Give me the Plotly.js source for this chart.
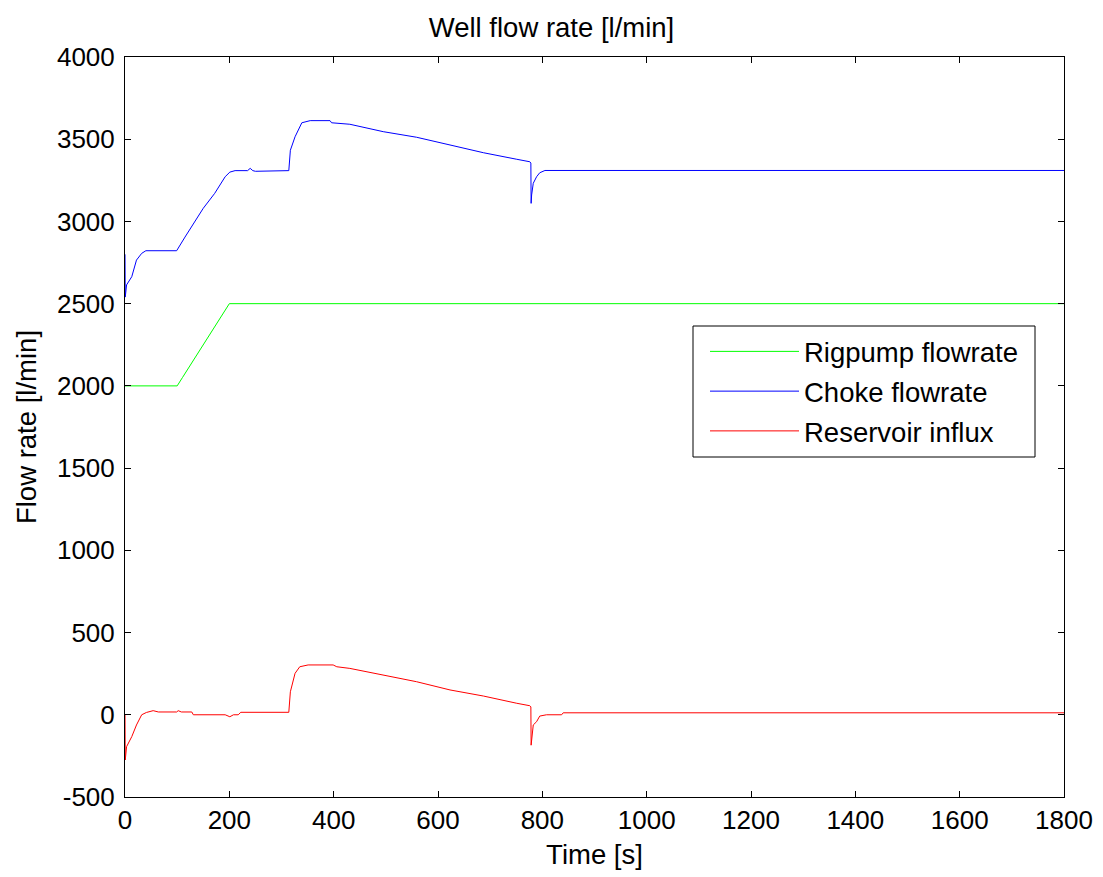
<!DOCTYPE html>
<html>
<head>
<meta charset="utf-8">
<script src="https://cdn.plot.ly/plotly-3.0.1.min.js"></script>
<style>html,body{margin:0;padding:0;background:#fff;}#chart{width:1103px;height:877px;}</style>
</head>
<body>
<div id="chart"></div>
<script>
// Rigpump flowrate
const rigT = [0, 100, 110, 120, 130, 140, 150, 160, 170, 180, 190, 200, 1800];
const rigQ = [2000, 2000, 2050, 2100, 2150, 2200, 2250, 2300, 2350, 2400, 2450, 2500, 2500];

// Choke flowrate
const chokeT = [0, 0.5, 3, 13, 22, 32, 40, 99, 115, 134, 150, 172, 185, 192, 201, 211, 235, 240, 245, 250, 314, 317, 326, 335, 339, 355, 393, 396, 431, 495, 559, 623, 687, 751, 776, 778, 778.5, 779.5, 782.6, 789, 795, 805, 1800];
const chokeQ = [2800, 2540, 2614, 2664, 2765, 2806, 2822, 2822, 2905, 2999, 3080, 3171, 3235, 3272, 3300, 3309, 3309, 3323, 3309, 3305, 3309, 3433, 3515, 3572, 3600, 3613, 3613, 3600, 3591, 3546, 3512, 3465, 3418, 3378, 3363, 3355, 3110, 3161, 3232, 3272, 3296, 3310, 3310];

// Reservoir influx
const resT = [0, 0.5, 3, 13, 22, 32, 41, 54, 64, 99, 102, 108, 128, 131, 192, 201, 208, 217, 222, 314, 317, 326, 335, 351, 399, 406, 431, 495, 559, 623, 687, 751, 776, 778, 778.5, 782.6, 789, 795, 808, 837, 840, 1800];
const resQ = [0, -275, -194, -133, -62, 0, 14, 25, 17, 17, 25, 17, 17, 0, 0, -12, 0, 0, 15, 15, 140, 252, 292, 303, 303, 292, 282, 242, 201, 151, 114, 70, 55, 48, -185, -62, -42, -8, 0, 0, 12, 12];

const seriesNames = ['Rigpump flowrate', 'Choke flowrate', 'Reservoir influx'];
const xTicks = [0, 200, 400, 600, 800, 1000, 1200, 1400, 1600, 1800];
const yTicks = [-500, 0, 500, 1000, 1500, 2000, 2500, 3000, 3500, 4000];

const font = 'Liberation Sans, Arial, sans-serif';
const traces = [
  {x: rigT, y: rigQ, name: seriesNames[0], legendgroup: 'a', mode: 'lines', line: {color: '#00ff00', width: 1}},
  {x: chokeT, y: chokeQ, name: seriesNames[1], legendgroup: 'b', mode: 'lines', line: {color: '#0000ff', width: 1}},
  {x: resT, y: resQ, name: seriesNames[2], legendgroup: 'c', mode: 'lines', line: {color: '#ff0000', width: 1}}
];

const axisCommon = {
  showgrid: false, zeroline: false,
  showline: true, linecolor: '#000', linewidth: 1,
  mirror: 'allticks', ticks: 'inside', ticklen: 6, tickcolor: '#000', tickwidth: 1,
  tickfont: {family: font, size: 26, color: '#000'}
};

const L = 125, R = 39, T = 57, B = 80, W = 1103, H = 877;
const pw = W - L - R, ph = H - T - B;
const px = v => (v - L) / pw;
const py = v => (H - B - v) / ph;

const layout = {
  width: W, height: H,
  paper_bgcolor: '#fff', plot_bgcolor: '#fff',
  margin: {l: L, r: R, t: T, b: B},
  title: {text: 'Well flow rate [l/min]', font: {family: font, size: 27.5, color: '#000'}, x: 0.5, xanchor: 'center', y: 0.969, yanchor: 'middle'},
  xaxis: Object.assign({}, axisCommon, {
    range: [0, 1800], tickvals: xTicks, ticktext: xTicks.map(String),
    title: {text: 'Time [s]', font: {family: font, size: 27.5, color: '#000'}, standoff: 10}
  }),
  yaxis: Object.assign({}, axisCommon, {
    range: [-500, 4000], tickvals: yTicks, ticktext: yTicks.map(String),
    ticklabelstandoff: 4,
    title: {text: 'Flow rate [l/min]', font: {family: font, size: 27.5, color: '#000'}, standoff: 12}
  }),
  showlegend: true,
  legend: {
    x: px(705), y: py(327), xanchor: 'left', yanchor: 'top',
    bgcolor: 'rgba(0,0,0,0)', borderwidth: 0,
    font: {family: font, size: 27.5, color: '#000'},
    itemwidth: 89, traceorder: 'grouped', tracegroupgap: 1
  },
  shapes: [{
    type: 'rect', xref: 'paper', yref: 'paper',
    x0: px(693), x1: px(1035), y0: py(457), y1: py(326),
    line: {color: '#000', width: 1}, fillcolor: '#fff', layer: 'above'
  }]
};

Plotly.newPlot('chart', traces, layout, {displayModeBar: false, staticPlot: true});
</script>
</body>
</html>
